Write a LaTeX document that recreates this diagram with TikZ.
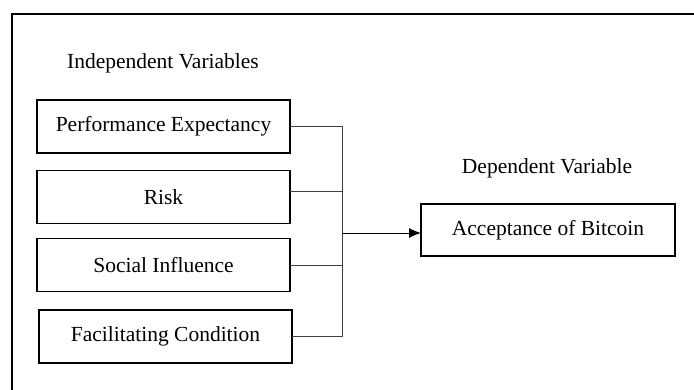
\documentclass[tikz,border=0pt]{standalone}
\usepackage{fontspec}
\setmainfont{Liberation Serif}
\usetikzlibrary{arrows.meta, positioning}

\begin{document}
\begin{tikzpicture}[
	x=1pt, y=-1pt,
	node distance=17.5pt,
	every node/.style={font=\fontsize{21.5}{25}\selectfont},
	var_box/.style={draw, line width=1.8pt, outer sep=0pt, minimum width=253pt, minimum height=53pt, inner sep=0pt},
	heading/.style={inner sep=0pt},
	link/.style={line width=0.9pt, black!75},
	arrow/.style={-{Latex[length=12pt, width=10pt]}, line width=0.9pt}
	]
	\useasboundingbox (0,0) rectangle (694,390);
	
	% --- frame ---
	\draw[line width=1.8pt] (12,390) -- (12,14) -- (694,14);
	
	% --- independent variables ---
	\node[heading] (indep) at (163,63) {Independent Variables};
	\node[var_box] (pe) at (163.5,126.5) {Performance Expectancy};
	\node[var_box] (risk) [below=of pe] {Risk};
	\node[var_box] (social) [below=15pt of risk] {Social Influence};
	\node[var_box] (fc) [below=18.5pt of social, xshift=2pt] {Facilitating Condition};
	
	% --- dependent variable ---
	\node[heading] (dep) at (547,168) {Dependent Variable};
	\node[var_box, minimum width=254pt, minimum height=52pt] (accept) at (548,230) {Acceptance of Bitcoin};
	
	% --- connectors ---
	\coordinate (bus) at (342,233);
	
	\draw[link] (pe.east) -| (bus |- fc.east) -- (fc.east);
	\draw[link] ([yshift=6pt]risk.east) -- ([yshift=6pt]risk.east -| bus);
	\draw[link] (social.east) -- (social.east -| bus);
	\draw[arrow] (bus) -- (bus -| accept.west);
	
\end{tikzpicture}
\end{document}
